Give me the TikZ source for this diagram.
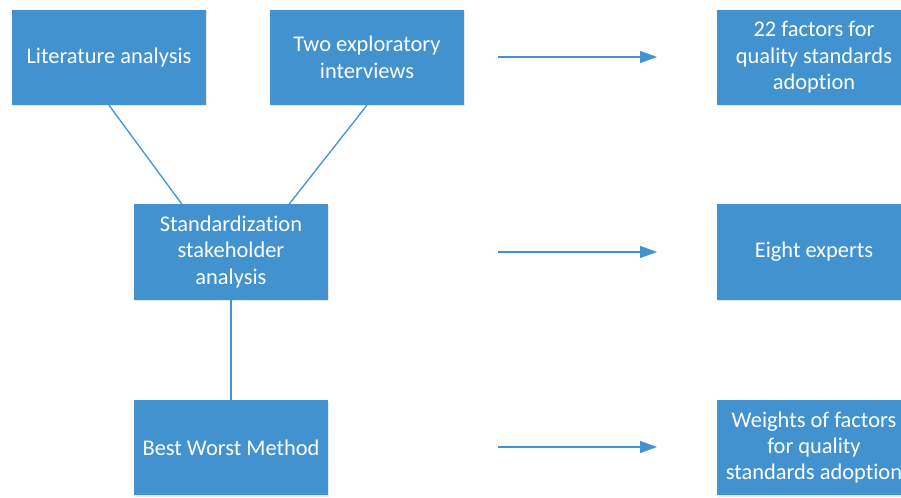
\documentclass[tikz,border=0pt]{standalone}
\usepackage{fontspec}
\setmainfont{Carlito}[Ligatures={NoCommon}]
\usetikzlibrary{positioning,arrows.meta,shadows}
\definecolor{boxblue}{RGB}{66,146,208}

\begin{document}
\begin{tikzpicture}[x=1bp,y=-1bp,>={Triangle[length=17bp,width=12bp]},
  blk/.style={fill=boxblue,text=white,minimum width=194bp,minimum height=95bp,
    align=center,inner sep=0pt,font=\fontsize{22.5}{26.5}\selectfont,
    drop shadow={opacity=0.18,shadow xshift=0.8bp,shadow yshift=-1.5bp}},
  conn/.style={draw=boxblue,line width=1.3bp}]
  \useasboundingbox (0,0) rectangle (901,498);
  % left column
  \node[blk] (lit) at (109,57.5) {Literature analysis};
  \node[blk] (intv) at (367,57.5) {Two exploratory\\interviews};
  \node[blk] (stake) at (231,252) {Standardization\\stakeholder\\analysis};
  \node[blk] (bwm) at (231,447.5) {Best Worst Method};
  % results
  \node[blk] (fact) at (814,57.5) {22 factors for\\quality standards\\adoption};
  \node[blk] (exp) at (814,252) {Eight experts};
  \node[blk] (wgt) at (814,447.5) {Weights of factors\\for quality\\standards adoption};
  % arrow ends
  \coordinate (a1) at (498,57);
  \coordinate (b1) at (657,57);
  \coordinate (a2) at (498,252);
  \coordinate (b2) at (657,252);
  \coordinate (a3) at (498,447);
  \coordinate (b3) at (657,447);
  \draw[conn] (lit.south) -- ([xshift=-49bp]stake.north);
  \draw[conn] (intv.south) -- ([xshift=58bp]stake.north);
  \draw[conn] (stake) -- (bwm);
  \draw[conn,fill=boxblue,->] (a1) -- (b1);
  \draw[conn,fill=boxblue,->] (a2) -- (b2);
  \draw[conn,fill=boxblue,->] (a3) -- (b3);
\end{tikzpicture}
\end{document}
